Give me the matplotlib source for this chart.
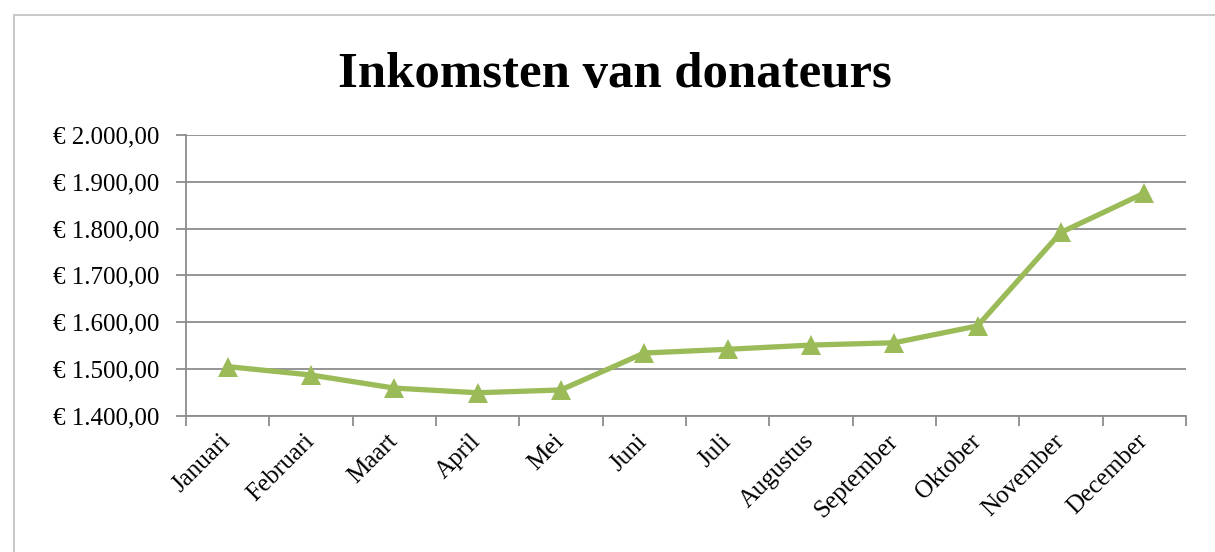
import matplotlib
matplotlib.use("Agg")
import matplotlib.pyplot as plt
from matplotlib.patches import Rectangle
from matplotlib.ticker import FuncFormatter, FixedLocator

# Data
months = ["Januari", "Februari", "Maart", "April", "Mei", "Juni",
          "Juli", "Augustus", "September", "Oktober", "November", "December"]
income = [1505, 1487, 1459, 1449, 1455, 1534, 1542, 1551, 1556, 1592, 1792, 1876]
y_ticks = [1400, 1500, 1600, 1700, 1800, 1900, 2000]

plt.rcParams['font.family'] = ['Liberation Serif', 'DejaVu Serif']

fig = plt.figure(figsize=(12.15, 5.52), dpi=100)
ax = fig.add_axes([0.153, 0.247, 0.823, 0.508])

x = list(range(len(months)))
ax.plot(x, income, color='#9bbb59', linewidth=3.8, marker='^', markersize=15,
        markeredgewidth=0, zorder=3)

# Euro formatting, Dutch style
def euro(v, pos):
    s = f"{v:,.2f}".replace(",", "X").replace(".", ",").replace("X", ".")
    return "€ " + s

ax.set_ylim(1400, 2000)
ax.set_yticks(y_ticks)
ax.yaxis.set_major_formatter(FuncFormatter(euro))
ax.grid(axis='y', color='#8c8c8c', linewidth=1.3)
ax.set_axisbelow(True)

ax.set_xlim(-0.5, len(months) - 0.5)
ax.xaxis.set_major_locator(FixedLocator([i - 0.5 for i in range(len(months) + 1)]))
ax.xaxis.set_minor_locator(FixedLocator(x))
ax.set_xticklabels([], minor=False)
ax.set_xticklabels(months, minor=True, rotation=45, ha='right', va='center',
                   rotation_mode='anchor', fontsize=18)
ax.tick_params(axis='x', which='major', length=7, color='#8c8c8c', width=1.3)
ax.tick_params(axis='x', which='minor', length=0, pad=16)
ax.tick_params(axis='y', length=7, color='#8c8c8c', width=1.3, labelsize=18, pad=12)

for side in ['top', 'right']:
    ax.spines[side].set_visible(False)
for side in ['left', 'bottom']:
    ax.spines[side].set_color('#8c8c8c')
    ax.spines[side].set_linewidth(1.3)

fig.text(0.506, 0.865, "Inkomsten van donateurs", ha='center', va='center',
         fontsize=36.5, fontweight='bold')

# light frame around the chart area
fig.add_artist(Rectangle((0.0115, -0.1), 1.2, 1.073, transform=fig.transFigure,
                         fill=False, edgecolor='#bfbfbf', linewidth=1.2))

fig.savefig("out.png", dpi=100)
